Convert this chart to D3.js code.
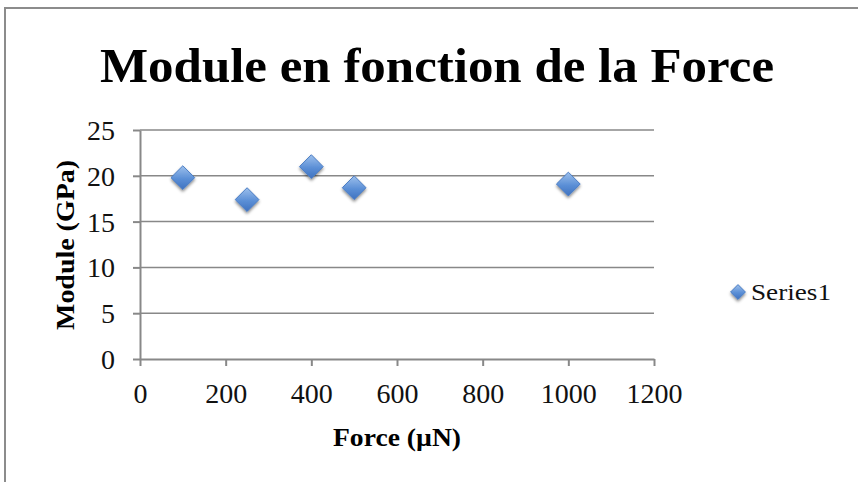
<!DOCTYPE html>
<html>
<head>
<meta charset="utf-8">
<script src="https://cdn.jsdelivr.net/npm/d3@7"></script>
<style>
  body { margin: 0; background: #fff; }
  svg { display: block; }
</style>
</head>
<body>
<svg id="chart" width="858" height="482"></svg>
<script>
// data
const forces = [100, 250, 400, 500, 1000];
const modules = [19.8, 17.4, 21.0, 18.7, 19.1];
const xTicks = [0, 200, 400, 600, 800, 1000, 1200];
const yTicks = [0, 5, 10, 15, 20, 25];
const seriesName = 'Series1';

const svg = d3.select('#chart');
const serif = '"Liberation Serif", "DejaVu Serif", serif';
const gridColor = '#888';

// chart frame (right and bottom edges fall outside the picture)
svg.append('path')
  .attr('d', 'M5,482 L5,8 L858,8')
  .attr('fill', 'none')
  .attr('stroke', '#8c8c8c')
  .attr('stroke-width', 2);

const x = d3.scaleLinear().domain([0, 1200]).range([140, 654]);
const y = d3.scaleLinear().domain([0, 25]).range([359, 130]);

// marker gradient and shadow
const defs = svg.append('defs');
const grad = defs.append('linearGradient')
  .attr('id', 'mk').attr('x1', 0).attr('y1', 0).attr('x2', 0).attr('y2', 1);
grad.append('stop').attr('offset', '0%').attr('stop-color', '#9dc0ec');
grad.append('stop').attr('offset', '55%').attr('stop-color', '#5b8fd6');
grad.append('stop').attr('offset', '100%').attr('stop-color', '#3f72c0');
const shadow = defs.append('filter').attr('id', 'sh')
  .attr('x', '-50%').attr('y', '-50%').attr('width', '200%').attr('height', '200%');
shadow.append('feDropShadow')
  .attr('dx', 0).attr('dy', 2).attr('stdDeviation', 1.6)
  .attr('flood-color', '#000').attr('flood-opacity', 0.45);

// horizontal gridlines
svg.append('g')
  .selectAll('line')
  .data(yTicks.filter((d) => d > 0))
  .join('line')
  .attr('x1', x(0)).attr('x2', x(1200))
  .attr('y1', (d) => y(d)).attr('y2', (d) => y(d))
  .attr('stroke', gridColor)
  .attr('stroke-width', 1.5);

// axes
const xAxis = svg.append('g')
  .attr('transform', `translate(0,${y(0)})`)
  .call(d3.axisBottom(x).tickValues(xTicks).tickFormat(d3.format('d'))
    .tickSize(7).tickPadding(37).tickSizeOuter(0));
const yAxis = svg.append('g')
  .attr('transform', `translate(${x(0)},0)`)
  .call(d3.axisLeft(y).tickValues(yTicks).tickFormat(d3.format('d'))
    .tickSize(7).tickPadding(18).tickSizeOuter(0));

[xAxis, yAxis].forEach((g) => {
  g.select('.domain').attr('stroke', gridColor).attr('stroke-width', 2);
  g.selectAll('.tick line').attr('stroke', gridColor).attr('stroke-width', 2);
  g.selectAll('.tick text')
    .attr('fill', '#111')
    .style('font-family', serif)
    .style('font-size', '28px');
});
xAxis.selectAll('.tick text').attr('dy', '0');
yAxis.selectAll('.tick text').attr('dy', '0.34em');

// markers
const diamond = d3.symbol().type(d3.symbolDiamond2).size(360);
svg.append('g')
  .selectAll('path')
  .data(forces.map((f, i) => ({ f, m: modules[i] })))
  .join('path')
  .attr('d', diamond)
  .attr('transform', (d) => `translate(${x(d.f)},${y(d.m)})`)
  .attr('fill', 'url(#mk)')
  .attr('stroke', '#4a7cc4')
  .attr('stroke-width', 1)
  .attr('filter', 'url(#sh)');

// title and axis labels
svg.append('text')
  .attr('x', 437).attr('y', 82)
  .attr('text-anchor', 'middle')
  .attr('textLength', 674)
  .attr('lengthAdjust', 'spacingAndGlyphs')
  .style('font-family', serif)
  .style('font-weight', 'bold')
  .style('font-size', '49px')
  .text('Module en fonction de la Force');

svg.append('text')
  .attr('transform', 'translate(74,245) rotate(-90)')
  .attr('text-anchor', 'middle')
  .attr('textLength', 170)
  .attr('lengthAdjust', 'spacingAndGlyphs')
  .style('font-family', serif)
  .style('font-weight', 'bold')
  .style('font-size', '26px')
  .text('Module (GPa)');

svg.append('text')
  .attr('x', 397).attr('y', 446)
  .attr('text-anchor', 'middle')
  .attr('textLength', 128)
  .attr('lengthAdjust', 'spacingAndGlyphs')
  .style('font-family', serif)
  .style('font-weight', 'bold')
  .style('font-size', '26px')
  .text('Force (µN)');

// legend
const legend = svg.append('g').attr('transform', 'translate(738,292)');
legend.append('path')
  .attr('d', d3.symbol().type(d3.symbolDiamond2).size(140))
  .attr('fill', 'url(#mk)')
  .attr('stroke', '#4a7cc4')
  .attr('stroke-width', 1)
  .attr('filter', 'url(#sh)');
legend.append('text')
  .attr('x', 13).attr('y', 8)
  .attr('textLength', 80)
  .attr('lengthAdjust', 'spacingAndGlyphs')
  .style('font-family', serif)
  .style('font-size', '24px')
  .attr('fill', '#111')
  .text(seriesName);
</script>
</body>
</html>
